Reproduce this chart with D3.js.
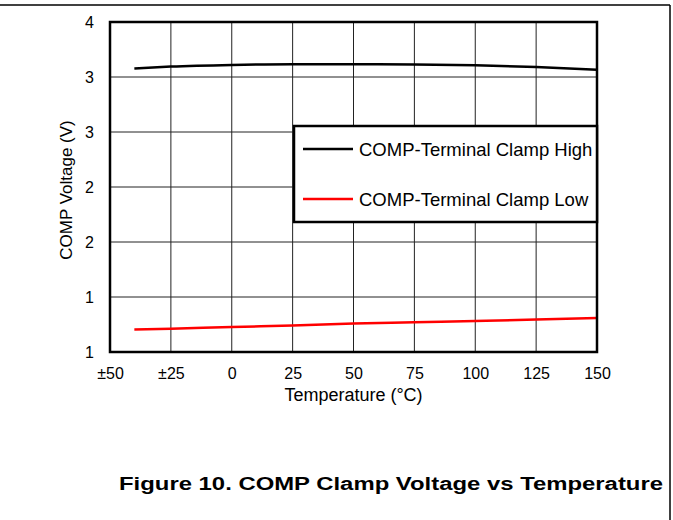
<!DOCTYPE html>
<html><head><meta charset="utf-8">
<script src="https://cdn.jsdelivr.net/npm/d3@7"></script>
<style>body{margin:0;background:#fff;}svg{display:block;font-family:"Liberation Sans",Arial,sans-serif;}</style>
</head><body>
<script>
const temps = [-40, -25, 0, 25, 50, 75, 100, 125, 150];
const clampHigh = [3.578, 3.595, 3.610, 3.616, 3.616, 3.614, 3.606, 3.590, 3.565];
const clampLow = [1.205, 1.212, 1.228, 1.240, 1.258, 1.270, 1.282, 1.295, 1.308];
const xTicks = [-50, -25, 0, 25, 50, 75, 100, 125, 150];
const xTickLabels = ["±50", "±25", "0", "25", "50", "75", "100", "125", "150"];
const yTicks = [1, 1.5, 2, 2.5, 3, 3.5, 4];
const yTickLabels = ["1", "1", "2", "2", "3", "3", "4"];
const seriesNames = ["COMP-Terminal Clamp High", "COMP-Terminal Clamp Low"];
const seriesColors = ["#000000", "#ff0000"];

const W = 673, H = 520;
const FONT = "Liberation Sans, Arial, sans-serif";
const svg = d3.select("body").append("svg").attr("width", W).attr("height", H);

// outer frame lines
svg.append("line").attr("x1", 0).attr("x2", 670).attr("y1", 5).attr("y2", 5).attr("stroke", "#000").attr("stroke-width", 1.5);
svg.append("line").attr("x1", 670).attr("x2", 670).attr("y1", 5).attr("y2", H).attr("stroke", "#000").attr("stroke-width", 1.5);

const L = 110, R = 597, T = 22, B = 352;
const x = d3.scaleLinear().domain([-50, 150]).range([L, R]);
const y = d3.scaleLinear().domain([1, 4]).range([B, T]);

const g = svg.append("g");
// grid
g.selectAll(".vg").data(xTicks).enter().append("line")
  .attr("x1", d => x(d)).attr("x2", d => x(d)).attr("y1", T).attr("y2", B)
  .attr("stroke", "#222").attr("stroke-width", 1);
g.selectAll(".hg").data(yTicks).enter().append("line")
  .attr("x1", L).attr("x2", R).attr("y1", d => y(d)).attr("y2", d => y(d))
  .attr("stroke", "#222").attr("stroke-width", 1);

// axes labels via d3 axes
const xAxis = d3.axisBottom(x).tickValues(xTicks).tickSize(0).tickPadding(0)
  .tickFormat((d, i) => xTickLabels[i]);
const xa = svg.append("g").attr("transform", `translate(0,${B + 16})`).call(xAxis);
xa.select(".domain").remove();
xa.attr("font-size", 16).attr("font-family", FONT);
xa.selectAll("text").attr("fill", "#000");

const yAxis = d3.axisLeft(y).tickValues(yTicks).tickSize(0).tickPadding(0)
  .tickFormat((d, i) => yTickLabels[i]);
const ya = svg.append("g").attr("transform", `translate(${L - 16},0)`).call(yAxis);
ya.select(".domain").remove();
ya.attr("font-size", 16).attr("font-family", FONT);
ya.selectAll("text").attr("fill", "#000");

// data lines
const line = d3.line().x((d, i) => x(temps[i])).y(d => y(d)).curve(d3.curveMonotoneX);
[clampHigh, clampLow].forEach((s, k) => {
  svg.append("path").datum(s).attr("d", line).attr("fill", "none")
    .attr("stroke", seriesColors[k]).attr("stroke-width", 2.5);
});

// plot border
svg.append("rect").attr("x", L).attr("y", T).attr("width", R - L).attr("height", B - T)
  .attr("fill", "none").attr("stroke", "#000").attr("stroke-width", 2.5);

// legend
const lg = svg.append("g");
lg.append("rect").attr("x", 294).attr("y", 126).attr("width", R - 294).attr("height", 96)
  .attr("fill", "#fff").attr("stroke", "#000").attr("stroke-width", 2.5);
seriesNames.forEach((n, k) => {
  const yy = 149 + k * 50;
  lg.append("line").attr("x1", 303).attr("x2", 353).attr("y1", yy).attr("y2", yy)
    .attr("stroke", seriesColors[k]).attr("stroke-width", 2.5);
  lg.append("text").attr("x", 359).attr("y", yy + 6.5).attr("font-size", 18.5).text(n);
});

// axis titles
svg.append("text").attr("x", (L + R) / 2).attr("y", 401).attr("text-anchor", "middle")
  .attr("font-size", 18).text("Temperature (°C)");
svg.append("text").attr("transform", `translate(72,190) rotate(-90)`)
  .attr("text-anchor", "middle").attr("font-size", 17).text("COMP Voltage (V)");

// figure caption
svg.append("text").attr("x", 119).attr("y", 490)
  .attr("font-size", 18).attr("font-weight", "bold")
  .attr("textLength", 544).attr("lengthAdjust", "spacingAndGlyphs")
  .text("Figure 10. COMP Clamp Voltage vs Temperature");
</script>
</body></html>
